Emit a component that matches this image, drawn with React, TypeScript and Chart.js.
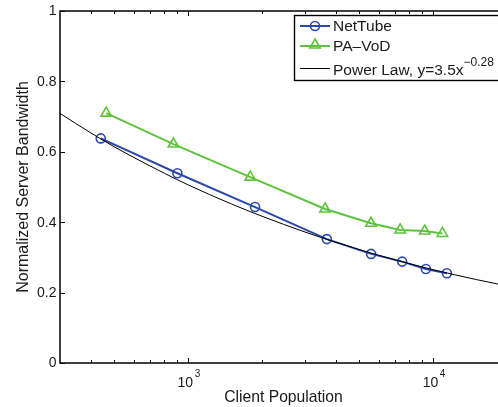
import React, { useEffect, useRef } from "react";
import { Chart, registerables } from "chart.js";
Chart.register(...registerables);

// ---- data ----
const netTubeX = [440, 904, 1875, 3680, 5580, 7470, 9330, 11370];
const netTubeY = [0.638, 0.539, 0.443, 0.352, 0.31, 0.288, 0.267, 0.255];
const paVodX = [463, 871, 1792, 3620, 5570, 7330, 9230, 10900];
const paVodY = [0.71, 0.622, 0.528, 0.4375, 0.397, 0.378, 0.375, 0.368];
const powerLawX = [300, 400, 500, 600, 800, 1000, 1500, 2000, 3000, 4000, 5000, 7000, 10000, 15000, 20000];
const powerLawY = [0.709, 0.654, 0.614, 0.584, 0.539, 0.506, 0.452, 0.417, 0.372, 0.343, 0.322, 0.293, 0.265, 0.237, 0.219];
const yTicks = [0, 0.2, 0.4, 0.6, 0.8, 1];
const yTickLabels = ["0", "0.2", "0.4", "0.6", "0.8", "1"];
const xMajorTicks = [1000, 10000];
const xMajorExponents = ["3", "4"];
const xMinorTicks = [400, 500, 600, 700, 800, 900, 2000, 3000, 4000, 5000, 6000, 7000, 8000, 9000, 20000];
const seriesNames = ["NetTube", "PA\u2013VoD", "Power Law, y=3.5x"];
const powerLawExponent = "\u22120.28";
const xTitle = "Client Population";
const yTitle = "Normalized Server Bandwidth";

const BLUE = "#2c48a8";
const GREEN = "#5ec23e";
const FONT = "'Liberation Sans', Arial, Helvetica, sans-serif";
const TEXT = "#1a1a1a";

const W = 520;
const H = 407;

const pts = (xs: number[], ys: number[]) => xs.map((x, i) => ({ x, y: ys[i] }));

function triangle(ctx: CanvasRenderingContext2D, cx: number, cy: number, r: number) {
  const s = Math.sin(Math.PI / 3) * r;
  ctx.beginPath();
  ctx.moveTo(cx, cy - r);
  ctx.lineTo(cx + s, cy + r / 2);
  ctx.lineTo(cx - s, cy + r / 2);
  ctx.closePath();
}

const decorPlugin = {
  id: "decor",
  afterDatasetsDraw(chart: any) {
    const ctx: CanvasRenderingContext2D = chart.ctx;
    const { left, right, top, bottom } = chart.chartArea;
    const xs = chart.scales.x;
    const ys = chart.scales.y;
    ctx.save();
    // frame
    ctx.strokeStyle = "#000";
    ctx.lineWidth = 1.5;
    ctx.beginPath();
    ctx.rect(left, top, right - left, bottom - top);
    ctx.stroke();
    // ticks
    ctx.lineWidth = 1;
    ctx.beginPath();
    for (const v of yTicks) {
      const y = Math.round(ys.getPixelForValue(v)) + 0.5;
      ctx.moveTo(left, y);
      ctx.lineTo(left + 5, y);
      ctx.moveTo(right, y);
      ctx.lineTo(right - 5, y);
    }
    for (const v of xMajorTicks) {
      const x = Math.round(xs.getPixelForValue(v)) + 0.5;
      ctx.moveTo(x, bottom);
      ctx.lineTo(x, bottom - 5);
      ctx.moveTo(x, top);
      ctx.lineTo(x, top + 5);
    }
    for (const v of xMinorTicks) {
      const x = Math.round(xs.getPixelForValue(v)) + 0.5;
      ctx.moveTo(x, bottom);
      ctx.lineTo(x, bottom - 3);
      ctx.moveTo(x, top);
      ctx.lineTo(x, top + 3);
    }
    ctx.stroke();

    // y tick labels
    ctx.fillStyle = TEXT;
    ctx.font = `14px ${FONT}`;
    ctx.textAlign = "right";
    ctx.textBaseline = "middle";
    yTicks.forEach((v, i) => {
      ctx.fillText(yTickLabels[i], left - 3.5, ys.getPixelForValue(v) + 0.5);
    });

    // x tick labels 10^n
    ctx.textBaseline = "alphabetic";
    ctx.textAlign = "left";
    xMajorTicks.forEach((v, i) => {
      const x = xs.getPixelForValue(v);
      ctx.font = `14px ${FONT}`;
      const w1 = ctx.measureText("10").width;
      ctx.font = `10px ${FONT}`;
      const w2 = ctx.measureText(xMajorExponents[i]).width;
      const start = x - (w1 + w2 + 1) / 2 + 0.5;
      ctx.font = `14px ${FONT}`;
      ctx.fillText("10", start, 387);
      ctx.font = `10px ${FONT}`;
      ctx.fillText(xMajorExponents[i], start + w1 + 1.5, 377);
    });

    // axis titles
    ctx.font = `15.7px ${FONT}`;
    ctx.textAlign = "center";
    ctx.fillText(xTitle, (left + right) / 2, 402);
    ctx.save();
    ctx.translate(28, (top + bottom) / 2);
    ctx.rotate(-Math.PI / 2);
    ctx.font = `16px ${FONT}`;
    ctx.fillText(yTitle, 0, 0);
    ctx.restore();

    // legend
    const bx = 294.5, by = 15.5, bw = 212, bh = 65;
    ctx.fillStyle = "#fff";
    ctx.fillRect(bx, by, bw, bh);
    ctx.strokeStyle = "#000";
    ctx.lineWidth = 1.4;
    ctx.strokeRect(bx, by, bw, bh);
    const rows = [26, 46, 69];
    const lx1 = 300, lx2 = 330, mx = 315, tx = 333;
    // NetTube
    ctx.strokeStyle = BLUE;
    ctx.lineWidth = 2;
    ctx.beginPath();
    ctx.moveTo(lx1, rows[0]);
    ctx.lineTo(lx2, rows[0]);
    ctx.stroke();
    ctx.lineWidth = 1.6;
    ctx.beginPath();
    ctx.arc(mx, rows[0], 4.5, 0, Math.PI * 2);
    ctx.stroke();
    // PA-VoD
    ctx.strokeStyle = GREEN;
    ctx.lineWidth = 2;
    ctx.beginPath();
    ctx.moveTo(lx1, rows[1]);
    ctx.lineTo(lx2, rows[1]);
    ctx.stroke();
    ctx.lineWidth = 1.6;
    triangle(ctx, mx, rows[1] - 1, 6);
    ctx.stroke();
    // Power law
    ctx.strokeStyle = "#000";
    ctx.lineWidth = 1;
    ctx.beginPath();
    ctx.moveTo(lx1, rows[2] - 0.5);
    ctx.lineTo(lx2, rows[2] - 0.5);
    ctx.stroke();

    ctx.fillStyle = TEXT;
    ctx.textAlign = "left";
    ctx.textBaseline = "middle";
    ctx.font = `15.5px ${FONT}`;
    ctx.fillText(seriesNames[0], tx, rows[0] + 1);
    ctx.fillText(seriesNames[1], tx, rows[1] + 1);
    ctx.fillText(seriesNames[2], tx, rows[2] + 2);
    const w = ctx.measureText(seriesNames[2]).width;
    ctx.font = `12px ${FONT}`;
    ctx.fillText(powerLawExponent, tx + w, rows[2] - 6);
    ctx.restore();
  },
};

export default function App() {
  const ref = useRef<HTMLCanvasElement>(null);
  useEffect(() => {
    if (!ref.current) return;
    const chart = new Chart(ref.current, {
      type: "line",
      data: {
        datasets: [
          {
            label: seriesNames[2],
            data: pts(powerLawX, powerLawY),
            borderColor: "#000",
            borderWidth: 1,
            pointRadius: 0,
            cubicInterpolationMode: "monotone",
            order: 0,
          },
          {
            label: seriesNames[0],
            data: pts(netTubeX, netTubeY),
            borderColor: BLUE,
            borderWidth: 2,
            pointStyle: "circle",
            pointRadius: 4.5,
            pointBorderWidth: 1.6,
            pointBorderColor: BLUE,
            pointBackgroundColor: "rgba(0,0,0,0)",
            order: 2,
          },
          {
            label: seriesNames[1],
            data: pts(paVodX, paVodY),
            borderColor: GREEN,
            borderWidth: 2,
            pointStyle: "triangle",
            pointRadius: 6,
            pointBorderWidth: 1.6,
            pointBorderColor: GREEN,
            pointBackgroundColor: "rgba(0,0,0,0)",
            order: 1,
          },
        ],
      },
      options: {
        animation: false,
        responsive: false,
        devicePixelRatio: 1,
        layout: { padding: { left: 60, top: 11, right: W - 507, bottom: H - 363 } },
        plugins: { legend: { display: false }, tooltip: { enabled: false } },
        scales: {
          x: { type: "logarithmic", min: 300, max: 20000, display: false },
          y: { type: "linear", min: 0, max: 1, display: false },
        },
      },
      plugins: [decorPlugin],
    } as any);
    return () => chart.destroy();
  }, []);
  return (
    <div style={{ position: "fixed", left: 0, top: 0, width: 498, height: H, overflow: "hidden", background: "#fff" }}>
      <canvas ref={ref} width={W} height={H} style={{ display: "block", width: W, height: H }} />
    </div>
  );
}
